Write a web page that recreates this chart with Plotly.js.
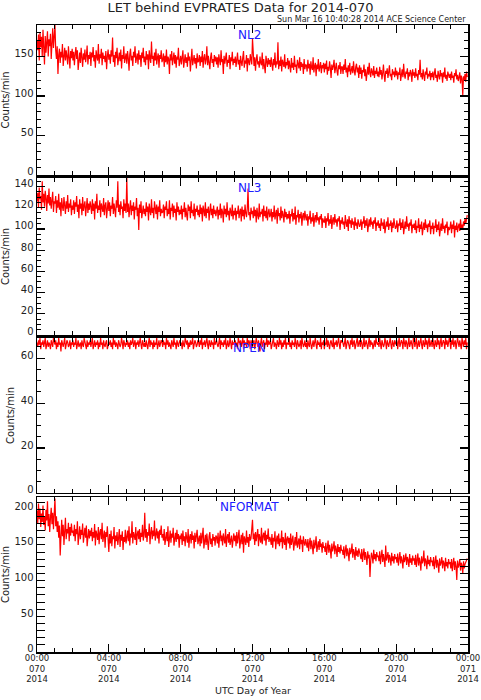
<!DOCTYPE html>
<html>
<head>
<meta charset="utf-8">
<script src="https://cdn.plot.ly/plotly-3.0.1.min.js"></script>
<style>html,body{margin:0;padding:0;background:#fff;}</style>
</head>
<body>
<div id="chart" style="width:481px;height:700px;"></div>
<script>
// Data: counts/min, one value every 2.5 minutes over day 070 of 2014 (one row per hour)
const nl2 = [
170,158,178,145,181,162,175,150,184,166,140,176,155,168,182,150,172,163,179,147,170,186,161,174,
190,158,147,163,128,152,160,142,156,149,166,138,154,161,145,158,150,140,163,152,135,157,148,160,
145,156,139,153,162,147,158,133,150,155,142,161,149,137,154,146,159,143,151,164,140,152,147,156,
138,155,149,162,144,152,136,158,150,145,166,141,153,148,160,139,155,147,151,143,157,134,150,159,
146,153,141,158,150,174,143,152,137,156,148,161,139,150,155,144,159,135,152,147,163,142,149,154,
141,157,148,132,153,160,145,151,138,156,149,163,142,150,154,140,158,146,152,137,155,148,161,143,
150,139,157,146,153,134,158,148,142,169,147,151,138,155,145,160,140,149,154,136,152,147,158,143,
146,154,137,151,143,159,140,150,147,128,153,145,157,139,149,155,141,152,136,150,146,161,138,148,
151,140,148,158,136,147,153,142,149,137,155,145,150,131,147,160,139,146,152,141,148,135,154,143,
144,152,138,150,143,157,136,148,153,140,146,163,139,151,145,134,149,155,142,147,137,152,144,150,
140,149,136,153,145,139,158,143,147,128,151,141,148,155,137,146,142,152,134,149,144,156,139,147,
142,150,137,147,155,140,146,133,151,143,138,149,157,136,145,141,152,131,148,144,139,153,146,140,
173,145,138,149,132,146,153,140,144,136,150,142,139,155,134,147,141,129,151,143,137,148,140,146,
137,149,143,132,147,139,155,136,144,140,168,134,145,138,150,131,146,142,137,153,135,143,139,148,
134,145,139,130,148,136,142,133,151,137,140,129,146,138,135,149,132,143,137,141,128,147,134,140,
139,131,146,135,141,127,144,136,133,149,130,138,142,125,140,134,147,131,137,143,129,139,135,142,
130,141,134,145,127,137,132,144,136,123,140,133,138,146,129,135,142,131,126,139,134,143,128,137,
137,128,140,133,147,130,136,124,139,131,142,127,135,138,129,144,132,126,137,141,130,136,123,139,
128,136,122,133,130,140,125,134,119,131,137,127,142,129,124,135,131,126,138,123,132,128,136,125,
131,124,137,127,133,121,129,140,126,118,132,128,135,123,130,139,125,128,120,134,127,131,124,136,
126,132,121,130,127,136,119,129,134,124,141,127,122,131,128,135,120,130,125,133,129,118,134,126,
130,123,135,125,128,120,133,127,146,124,129,121,134,126,119,131,127,136,122,128,125,132,120,129,
124,131,120,128,135,123,127,118,132,126,121,133,125,129,117,130,124,136,122,127,119,131,126,123,
128,120,131,123,126,117,129,125,134,121,127,119,124,130,116,126,122,101,125,120,128,118,131,124
];
const nl3 = [
126,134,120,139,128,131,118,145,125,133,121,136,129,117,132,124,138,122,130,119,127,135,116,126,
124,131,115,127,120,133,118,125,112,129,121,117,130,123,114,126,119,132,116,124,120,128,113,122,
118,127,114,125,121,131,116,123,110,128,119,124,113,130,117,122,126,112,121,129,115,124,118,126,
121,114,128,117,124,109,126,119,133,115,122,118,127,111,124,120,116,129,113,122,125,110,119,127,
117,125,112,122,119,130,114,124,118,111,127,120,145,116,123,113,126,119,121,110,128,117,124,115,
148,116,124,111,120,127,113,122,117,125,109,121,118,129,112,120,99,123,115,126,110,119,122,114,
119,112,125,116,121,108,124,117,113,128,115,120,110,126,118,114,123,109,121,116,127,112,119,115,
116,123,110,121,118,126,112,119,114,127,109,120,117,124,111,122,115,119,108,125,116,121,113,118,
114,122,109,119,116,125,111,120,113,108,123,117,121,110,126,115,118,112,124,109,119,116,122,113,
118,111,123,114,120,107,122,116,112,125,110,119,115,121,108,117,124,113,119,110,122,114,118,112,
115,121,109,118,113,124,110,119,116,106,122,114,119,111,125,113,117,108,120,115,112,123,109,117,
113,120,108,117,114,122,110,116,119,107,121,112,118,109,123,115,111,119,138,113,116,108,120,114,
117,110,121,112,118,106,120,113,109,124,111,116,114,119,107,122,112,117,110,121,108,115,119,111,
113,119,107,116,111,122,109,114,118,105,120,112,115,108,121,110,117,113,106,119,111,116,109,114,
110,117,105,114,112,119,107,115,109,121,104,113,111,118,106,114,110,116,103,112,115,108,117,111,
108,114,103,112,109,117,105,111,107,115,102,110,113,106,116,108,111,104,112,109,114,101,110,107,
106,112,101,110,107,115,103,109,105,113,100,108,111,104,114,106,109,102,110,107,112,99,108,105,
111,104,107,100,113,106,102,109,98,112,105,108,101,110,104,107,99,111,103,106,100,109,105,102,
104,109,99,107,105,112,101,108,103,110,97,106,109,102,111,104,107,100,108,105,111,98,106,103,
108,101,105,98,110,103,106,100,109,96,104,107,102,111,99,105,103,108,97,106,101,110,104,100,
102,108,97,105,103,110,99,106,101,109,95,104,107,100,112,102,105,98,106,103,109,96,104,101,
105,99,108,96,103,101,110,97,104,100,107,94,102,106,99,109,101,104,97,105,102,108,95,103,
100,106,95,103,101,109,97,104,99,107,93,102,105,98,110,100,103,96,104,101,107,94,102,99,
101,107,96,104,100,108,92,103,99,106,97,102,105,98,109,101,104,100,107,103,110,105,108,113
];
const npen = [
67,65,68,66,69,64,67,66,68,65,67,69,64,66,68,65,67,66,64,68,67,65,69,66,
66,68,64,67,65,69,66,67,63,68,66,65,67,69,64,66,68,67,65,66,68,64,67,66,
68,65,67,66,69,64,67,68,65,66,67,64,68,66,65,69,67,66,64,68,65,67,66,68,
65,67,69,64,66,68,65,67,66,68,64,67,65,69,66,67,64,68,66,65,67,68,64,66,
67,66,68,65,67,64,69,66,68,65,67,66,64,68,67,65,66,69,67,64,68,66,65,67,
66,68,65,67,64,68,66,67,69,65,66,68,64,67,66,68,65,67,69,66,64,68,67,65,
67,65,68,66,64,67,69,65,68,66,67,64,68,65,67,66,69,64,67,68,65,66,68,67,
65,68,66,67,64,69,66,68,65,67,66,64,68,67,65,69,66,67,64,68,66,65,67,68,
66,67,64,68,66,65,69,67,66,68,64,67,65,68,66,67,69,64,66,68,67,65,66,68,
67,65,68,66,69,64,67,66,68,65,67,69,66,64,68,67,65,68,66,67,64,69,66,67,
68,66,65,67,69,64,68,66,67,65,68,66,69,64,67,68,65,66,69,67,64,68,66,67,
66,68,65,67,64,69,67,66,68,65,67,69,64,68,66,67,65,69,66,68,67,64,68,66,
65,67,68,64,66,69,67,65,68,66,63,67,69,65,66,68,64,67,66,69,65,68,66,67,
68,64,66,67,69,65,67,66,64,68,67,65,69,66,68,64,67,65,68,66,69,64,67,66,
66,69,65,67,64,68,66,67,65,69,66,64,68,67,65,66,68,64,69,67,65,66,68,65,
67,64,68,66,65,69,67,64,66,68,65,67,69,66,64,68,66,67,65,69,64,67,66,68,
64,67,66,69,65,68,66,64,67,68,66,65,69,64,67,66,68,65,67,69,66,64,68,67,
68,66,65,67,69,64,66,68,67,65,64,68,66,69,65,67,68,64,66,67,69,65,66,68,
65,68,67,64,66,69,65,67,68,66,64,67,69,65,68,66,67,64,66,68,65,69,67,66,
67,65,69,66,64,68,67,65,66,69,67,64,68,66,65,67,69,66,64,68,67,65,68,66,
66,68,64,67,69,65,66,68,67,64,69,66,65,68,67,64,66,69,65,67,68,66,64,69,
68,65,67,69,64,66,68,65,67,69,66,64,68,67,65,69,66,68,64,67,69,65,66,68,
65,69,66,64,68,67,65,69,66,68,64,67,69,65,66,68,67,64,69,66,68,65,67,69,
67,64,68,66,69,65,67,68,64,66,69,67,65,68,66,64,69,67,65,68,66,69,64,67
];
const nformat = [
198,180,208,186,201,175,194,182,205,178,190,170,199,184,211,176,193,168,188,202,179,195,172,187,
215,176,190,168,183,160,177,135,170,185,162,178,150,174,188,158,172,166,181,155,175,163,180,167,
170,162,178,155,172,165,183,150,169,176,158,171,164,180,153,168,174,160,177,148,166,172,159,170,
162,174,155,168,160,179,149,170,164,157,175,151,167,172,158,181,154,165,170,146,168,161,176,158,
140,165,152,170,148,162,158,175,145,163,155,168,150,160,172,147,164,156,169,143,161,154,171,152,
158,170,155,176,149,166,160,183,152,168,163,157,175,150,165,170,158,172,154,167,161,178,156,164,
195,160,172,154,168,163,180,151,167,175,158,170,162,184,156,166,173,159,169,152,171,164,177,160,
165,156,172,150,163,168,155,176,147,164,170,153,166,160,174,149,162,167,154,171,158,165,146,163,
158,166,150,170,155,162,148,168,160,153,172,146,161,165,152,169,157,163,145,167,154,160,171,151,
156,163,148,167,152,160,174,145,158,164,150,166,154,143,162,168,151,159,147,165,156,161,149,163,
161,152,167,146,160,170,155,163,149,166,158,152,172,147,161,165,153,168,150,157,163,146,160,166,
155,163,148,168,152,160,171,145,158,164,151,167,139,162,157,150,170,153,161,147,165,156,159,176,
185,158,166,150,168,155,163,172,148,165,159,153,174,151,162,167,156,170,149,164,158,173,154,161,
158,150,165,146,160,155,169,144,157,163,151,166,148,159,154,170,145,161,156,150,167,143,158,162,
152,160,145,166,150,157,163,142,156,161,149,168,146,155,159,144,163,151,157,140,162,153,149,158,
154,146,158,141,152,160,144,156,148,137,157,145,151,162,140,149,155,143,158,147,152,139,154,146,
148,140,153,136,147,156,139,150,143,131,152,141,146,155,137,149,144,133,151,140,147,138,150,142,
143,136,148,131,142,150,134,145,138,127,146,137,141,152,132,144,139,129,147,135,142,133,145,138,
138,130,144,126,137,145,129,140,133,122,141,131,136,105,128,139,134,124,143,130,137,127,140,133,
135,127,141,123,134,143,126,137,130,119,149,128,133,140,125,136,131,121,139,127,134,124,137,130,
133,125,138,121,131,140,124,134,128,117,136,126,130,138,122,133,129,119,137,125,131,122,135,128,
131,122,136,119,129,138,121,132,126,114,134,124,128,142,120,131,127,116,135,123,129,120,133,126,
128,120,133,116,126,135,118,129,123,111,131,121,125,133,117,128,124,113,132,120,126,117,130,123,
126,117,130,113,124,132,115,127,120,101,128,118,122,130,114,125,121,110,127,117,123,126,129,131
];
const panelNames = ["NL2", "NL3", "NPEN", "NFORMAT"];
const tickHours = [0, 4, 8, 12, 16, 20, 24];
const tickTimes = ["00:00", "04:00", "08:00", "12:00", "16:00", "20:00", "00:00"];
const tickDoys = ["070", "070", "070", "070", "070", "070", "071"];
const tickYears = ["2014", "2014", "2014", "2014", "2014", "2014", "2014"];

const series = [nl2, nl3, npen, nformat];
const yRanges = [[0, 190], [0, 148], [0, 69], [0, 217]];
const yDticks = [50, 20, 20, 50];
const yMinor = [10, 5, 5, 10];
const domains = [[0.7608, 1.0], [0.5056, 0.756], [0.2536, 0.5008], [0, 0.2472]];

const font = "DejaVu Sans, Liberation Sans, sans-serif";
const traces = [];
const layout = {
  width: 481, height: 700,
  margin: {l: 37, r: 13, t: 25, b: 48},
  paper_bgcolor: "#fff", plot_bgcolor: "#fff",
  showlegend: false,
  font: {family: font, size: 10, color: "#222"},
  annotations: [],
  title: {text: "LET behind EVPRATES Data for 2014-070", x: 0.5, xanchor: "center",
          y: 0.989, yanchor: "middle", font: {family: font, size: 13, color: "#222"}}
};
layout.annotations.push({text: "Sun Mar 16 10:40:28 2014 ACE Science Center", xref: "paper", yref: "paper",
  x: 1, xanchor: "right", y: 1, yanchor: "bottom", yshift: -1, showarrow: false,
  font: {family: font, size: 8, color: "#222"}});
layout.annotations.push({text: "UTC Day of Year", xref: "paper", yref: "paper",
  x: 0.5, xanchor: "center", y: 0, yanchor: "middle", yshift: -38, showarrow: false,
  font: {family: font, size: 9.5, color: "#222"}});

series.forEach((s, k) => {
  const n = k + 1;
  const sfx = n === 1 ? "" : String(n);
  const xs = s.map((v, i) => i * 24 / s.length);
  traces.push({x: xs, y: s, type: "scatter", mode: "lines",
    xaxis: "x" + sfx, yaxis: "y" + sfx,
    line: {color: "#ff0000", width: 1.2}});
  const xa = {
    domain: [0, 1], range: [0, 24], anchor: "y" + sfx,
    tickmode: "array", tickvals: tickHours, ticktext: tickTimes,
    showticklabels: k === 3, ticklabeloverflow: "allow", ticklabelstandoff: -3,
    ticks: "inside", ticklen: 8, tickwidth: 1.2, tickcolor: "#000",
    minor: {ticks: "inside", ticklen: 4, dtick: 1, tick0: 0, tickcolor: "#000", tickwidth: 1},
    showline: true, linecolor: "#000", linewidth: 1.5, mirror: "allticks",
    showgrid: false, zeroline: false,
    tickfont: {family: font, size: 8.5, color: "#222"}
  };
  if (n > 1) xa.matches = "x";
  const ya = {
    domain: domains[k], range: yRanges[k], anchor: "x" + sfx,
    tickmode: "linear", tick0: 0, dtick: yDticks[k],
    ticks: "inside", ticklen: 8, tickwidth: 1.2, tickcolor: "#000",
    minor: {ticks: "inside", ticklen: 4, dtick: yMinor[k], tick0: 0, tickcolor: "#000", tickwidth: 1},
    showline: true, linecolor: "#000", linewidth: 1.5, mirror: "allticks",
    showgrid: false, zeroline: false, ticklabelshift: -3,
    tickfont: {family: font, size: 10, color: "#222"},
    title: {text: "Counts/min", font: {family: font, size: 10, color: "#222"}, standoff: 4}
  };
  layout["xaxis" + sfx] = xa;
  layout["yaxis" + sfx] = ya;
  layout.annotations.push({text: panelNames[k], xref: "paper", yref: "y" + sfx + " domain",
    x: 0.494, xanchor: "center", y: 1, yanchor: "top", yshift: -1, showarrow: false,
    font: {family: font, size: 12, color: "#2020ff"}});
});

// Extra label rows (day of year, year) under the bottom panel, as overlaid x axes
[[tickDoys, 5, 10], [tickYears, 6, 20]].forEach(([labels, n, standoff]) => {
  traces.push({x: [], y: [], type: "scatter", mode: "lines", xaxis: "x" + n, yaxis: "y4",
    hoverinfo: "skip", showlegend: false});
  layout["xaxis" + n] = {
    overlaying: "x4", matches: "x", anchor: "y4", side: "bottom", range: [0, 24],
    tickmode: "array", tickvals: tickHours, ticktext: labels,
    ticklabeloverflow: "allow", ticklabelstandoff: standoff,
    ticks: "", showline: false, showgrid: false, zeroline: false,
    tickfont: {family: font, size: 8.5, color: "#222"}
  };
});

Plotly.newPlot("chart", traces, layout, {displayModeBar: false, staticPlot: true});
</script>
</body>
</html>
